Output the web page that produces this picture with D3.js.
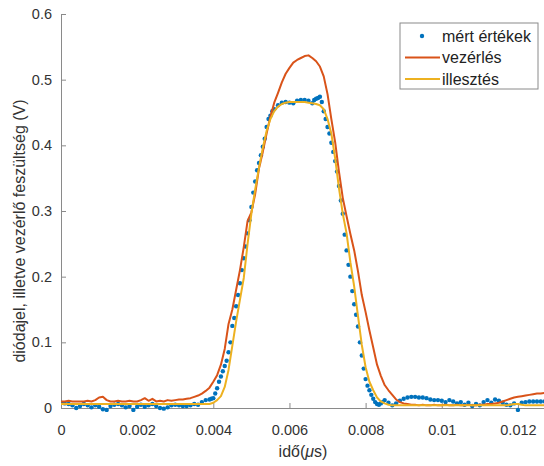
<!DOCTYPE html>
<html>
<head>
<meta charset="utf-8">
<script src="https://cdn.jsdelivr.net/npm/d3@7"></script>
<style>
body { margin: 0; background: #fff; }
svg { display: block; font-family: "Liberation Sans", Arial, sans-serif; }
</style>
</head>
<body>
<div id="chart"></div>
<script>
// dioda jel, vezerles es illesztes

const svgWidth = 544
const svgHeight = 466

// meresi pontok (ido, feszultseg)
const mertIdo = [
	0, 0.0001, 0.0002, 0.0003, 0.0004, 0.0005, 0.0006, 0.0007, 0.0008, 0.0009,
	0.0010, 0.0011, 0.0012, 0.0013, 0.0014, 0.0015, 0.0016, 0.0017, 0.0018, 0.0019,
	0.0020, 0.0021, 0.0022, 0.0023, 0.0024, 0.0025, 0.0026, 0.0027, 0.0028, 0.0029,
	0.0030, 0.0031, 0.0032, 0.0033, 0.0034, 0.0035, 0.0036, 0.0037, 0.0038, 0.0039,
	0.00395, 0.0040, 0.00405, 0.0041, 0.00415, 0.0042, 0.00425, 0.0043, 0.00435, 0.0044,
	0.00445, 0.0045, 0.00455, 0.0046, 0.00465, 0.0047, 0.00475, 0.0048, 0.00485, 0.0049,
	0.00495, 0.0050, 0.00505, 0.0051, 0.00515, 0.0052, 0.00525, 0.0053, 0.00535, 0.0054,
	0.00545, 0.0055, 0.00555,
	0.0056, 0.0057, 0.0058, 0.0059, 0.0060, 0.0061, 0.0062, 0.0063, 0.0064, 0.0065,
	0.0066, 0.00665, 0.0067, 0.00675, 0.0068, 0.00685, 0.0069,
	0.00695, 0.0070, 0.00705, 0.0071, 0.00715, 0.0072, 0.00725, 0.0073, 0.00735, 0.0074,
	0.00745, 0.0075, 0.00755, 0.0076, 0.00765, 0.0077, 0.00775, 0.0078, 0.00785, 0.0079,
	0.00795, 0.0080, 0.00805, 0.0081, 0.00815, 0.0082, 0.00825, 0.0083, 0.00835, 0.0084,
	0.00845, 0.0085,
	0.0086, 0.0087, 0.0088, 0.0089, 0.0090, 0.0091, 0.0092, 0.0093, 0.0094, 0.0095,
	0.0096, 0.0097, 0.0098, 0.0099, 0.0100, 0.0101, 0.0102, 0.0103, 0.0104, 0.0105,
	0.0106, 0.0107, 0.0108, 0.0109, 0.0110, 0.0111, 0.0112, 0.0113, 0.0114, 0.0115,
	0.0116, 0.0117, 0.0118, 0.0119, 0.0120, 0.0121, 0.0122, 0.0123, 0.0124, 0.0125,
	0.0126, 0.0127
]
const mertErtek = [
	0.008, 0.007, 0.006, 0.004, 0.000, 0.003, 0.006, 0.004, 0.001, 0.004,
	0.002, -0.002, -0.003, 0.003, 0.005, 0.006, 0.004, 0.001, 0.003, -0.003,
	0.002, 0.005, 0.002, 0.004, 0.006, 0.003, 0.000, -0.001, 0.001, 0.004,
	0.005, 0.004, 0.003, 0.003, 0.004, 0.006, 0.005, 0.009, 0.012, 0.013,
	0.014, 0.015, 0.022, 0.030, 0.040, 0.048, 0.056, 0.064, 0.072, 0.085,
	0.100, 0.125, 0.137, 0.155, 0.172, 0.190, 0.210, 0.228, 0.246, 0.266,
	0.286, 0.306, 0.328, 0.345, 0.362, 0.373, 0.385, 0.398, 0.410, 0.428,
	0.440, 0.445, 0.452,
	0.455, 0.461, 0.465, 0.466, 0.465, 0.464, 0.468, 0.469, 0.469, 0.468,
	0.464, 0.469, 0.471, 0.472, 0.474, 0.466, 0.452,
	0.440, 0.428, 0.418, 0.404, 0.390, 0.376, 0.360, 0.338, 0.316, 0.296,
	0.264, 0.240, 0.218, 0.200, 0.178, 0.158, 0.142, 0.124, 0.100, 0.080,
	0.060, 0.044, 0.034, 0.027, 0.020, 0.014, 0.009, 0.006, 0.005, 0.007,
	0.009, 0.012,
	0.008, 0.004, 0.007, 0.011, 0.014, 0.016, 0.017, 0.017, 0.016, 0.016,
	0.015, 0.013, 0.012, 0.012, 0.011, 0.009, 0.012, 0.010, 0.007, 0.009,
	0.005, 0.008, 0.003, 0.006, 0.004, 0.009, 0.012, 0.008, 0.013, 0.011,
	0.008, 0.005, 0.004, 0.007, -0.003, 0.008, 0.009, 0.010, 0.010, 0.010,
	0.010, 0.010
]

// a ket gorbe kozos idotengelye
const vonalIdo = [
	0, 0.0001, 0.0002, 0.0003, 0.0004, 0.0005, 0.0006, 0.0007, 0.0008, 0.0009,
	0.0010, 0.0011, 0.0012, 0.0013, 0.0014, 0.0015, 0.0016, 0.0017, 0.0018, 0.0019,
	0.0020, 0.0021, 0.0022, 0.0023, 0.0024, 0.0025, 0.0026, 0.0027, 0.0028, 0.0029,
	0.0030, 0.0031, 0.0032, 0.0033, 0.0034, 0.0035, 0.0036, 0.0037, 0.0038, 0.0039,
	0.0040, 0.0041, 0.0042, 0.0043, 0.0044, 0.0045, 0.0046, 0.0047, 0.0048, 0.0049,
	0.0050, 0.0051, 0.0052, 0.0053, 0.0054, 0.0055, 0.0056, 0.0057, 0.0058, 0.0059,
	0.0060, 0.0061, 0.0062, 0.0063, 0.0064, 0.0065, 0.0066, 0.0067, 0.0068, 0.0069,
	0.0070, 0.0071, 0.0072, 0.0073, 0.0074, 0.0075, 0.0076, 0.0077, 0.0078, 0.0079,
	0.0080, 0.0081, 0.0082, 0.0083, 0.0084, 0.0085, 0.0086, 0.0087, 0.0088, 0.0089,
	0.0090, 0.0091, 0.0092, 0.0093, 0.0094, 0.0095, 0.0096, 0.0097, 0.0098, 0.0099,
	0.0100, 0.0101, 0.0102, 0.0103, 0.0104, 0.0105, 0.0106, 0.0107, 0.0108, 0.0109,
	0.0110, 0.0111, 0.0112, 0.0113, 0.0114, 0.0115, 0.0116, 0.0117, 0.0118, 0.0119,
	0.0120, 0.0121, 0.0122, 0.0123, 0.0124, 0.0125, 0.0126, 0.0127
]
const vezerles = [
	0.010, 0.010, 0.011, 0.010, 0.010, 0.010, 0.010, 0.011, 0.010, 0.012,
	0.016, 0.017, 0.012, 0.010, 0.010, 0.011, 0.010, 0.010, 0.011, 0.010,
	0.010, 0.012, 0.015, 0.011, 0.014, 0.010, 0.011, 0.010, 0.012, 0.011,
	0.012, 0.013, 0.013, 0.014, 0.015, 0.017, 0.019, 0.022, 0.026, 0.031,
	0.040, 0.050, 0.066, 0.090, 0.128, 0.150, 0.180, 0.210, 0.245, 0.285,
	0.298, 0.326, 0.365, 0.390, 0.418, 0.444, 0.465, 0.480, 0.496, 0.509,
	0.518, 0.526, 0.530, 0.533, 0.536, 0.537, 0.533, 0.528, 0.520, 0.505,
	0.478, 0.440, 0.405, 0.360, 0.320, 0.292, 0.265, 0.240, 0.208, 0.172,
	0.146, 0.118, 0.092, 0.066, 0.049, 0.035, 0.027, 0.020, 0.013, 0.009,
	0.007, 0.006, 0.005, 0.005, 0.004, 0.005, 0.004, 0.004, 0.005, 0.004,
	0.004, 0.005, 0.004, 0.004, 0.005, 0.004, 0.004, 0.005, 0.004, 0.004,
	0.005, 0.005, 0.006, 0.006, 0.007, 0.008, 0.010, 0.012, 0.014, 0.016,
	0.017, 0.018, 0.019, 0.020, 0.021, 0.022, 0.022, 0.023
]
const illesztes = [
	0.006, 0.006, 0.006, 0.006, 0.006, 0.006, 0.006, 0.006, 0.006, 0.006,
	0.006, 0.006, 0.006, 0.006, 0.006, 0.006, 0.006, 0.006, 0.006, 0.006,
	0.006, 0.006, 0.006, 0.006, 0.006, 0.006, 0.006, 0.006, 0.006, 0.006,
	0.006, 0.006, 0.006, 0.006, 0.006, 0.006, 0.006, 0.006, 0.006, 0.006,
	0.008, 0.012, 0.018, 0.032, 0.058, 0.095, 0.132, 0.165, 0.198, 0.250,
	0.296, 0.333, 0.366, 0.396, 0.422, 0.440, 0.452, 0.459, 0.463, 0.465,
	0.466, 0.466, 0.466, 0.466, 0.466, 0.465, 0.464, 0.463, 0.461, 0.455,
	0.440, 0.418, 0.380, 0.335, 0.296, 0.266, 0.222, 0.185, 0.140, 0.096,
	0.062, 0.040, 0.027, 0.016, 0.010, 0.007, 0.005, 0.004, 0.004, 0.004,
	0.004, 0.004, 0.004, 0.004, 0.004, 0.004, 0.004, 0.004, 0.004, 0.004,
	0.004, 0.004, 0.004, 0.004, 0.004, 0.004, 0.004, 0.004, 0.004, 0.004,
	0.004, 0.004, 0.004, 0.004, 0.004, 0.004, 0.004, 0.004, 0.005, 0.006,
	0.006, 0.005, 0.004, 0.004, 0.004, 0.004, 0.004, 0.004
]

const xTicks = [0, 0.002, 0.004, 0.006, 0.008, 0.01, 0.012]
const yTicks = [0, 0.1, 0.2, 0.3, 0.4, 0.5, 0.6]
const legendNames = ["mért értékek", "vezérlés", "illesztés"]
const colors = ["#0072BD", "#D95319", "#EDB120"]

function drawChart()
{
	var svg = d3.select("#chart")
		.append("svg")
		.attr("width", svgWidth)
		.attr("height", svgHeight)

	// the plot runs past the right edge of the picture
	var x = d3.scaleLinear().domain([0, 0.013]).range([61, 556])
	var y = d3.scaleLinear().domain([0, 0.6]).range([408, 14])

	svg.append("clipPath").attr("id", "plotClip")
		.append("rect")
		.attr("x", 61).attr("y", 14)
		.attr("width", 495).attr("height", 398)

	var fmt = d => d === 0 ? "0" : String(+d.toFixed(4))

	var xAxis = svg.append("g")
		.attr("transform", "translate(0," + y(0) + ")")
		.call(d3.axisBottom(x).tickValues(xTicks).tickFormat(fmt)
			.tickSizeInner(-5).tickSizeOuter(0).tickPadding(17))
	var yAxis = svg.append("g")
		.attr("transform", "translate(" + x(0) + ",0)")
		.call(d3.axisLeft(y).tickValues(yTicks).tickFormat(fmt)
			.tickSizeInner(-5).tickSizeOuter(0).tickPadding(9))

	for (const ax of [xAxis, yAxis]) {
		ax.select(".domain").attr("stroke", "#8a8a8a")
		ax.selectAll(".tick line").attr("stroke", "#8a8a8a")
		ax.selectAll(".tick text")
			.attr("fill", "#333")
			.style("font-size", "14.5px")
			.style("font-family", "'Liberation Sans', Arial, sans-serif")
	}

	var plot = svg.append("g").attr("clip-path", "url(#plotClip)")

	plot.selectAll("circle")
		.data(mertIdo)
		.join("circle")
		.attr("cx", d => x(d))
		.attr("cy", (d, i) => y(mertErtek[i]))
		.attr("r", 2.2)
		.attr("fill", colors[0])

	var line = d3.line()
		.x(d => x(d[0]))
		.y(d => y(d[1]))

	var series = [vezerles, illesztes]
	for (i = 0; i < series.length; i++) {
		var pts = vonalIdo.map((t, j) => [t, series[i][j]])
		plot.append("path")
			.attr("d", line(pts))
			.style("fill", "none")
			.style("stroke", colors[i + 1])
			.style("stroke-width", 2)
			.style("stroke-linejoin", "round")
	}

	// tengelyfeliratok
	var xLabel = svg.append("text")
		.attr("x", 303)
		.attr("y", 457)
		.attr("text-anchor", "middle")
		.attr("fill", "#333")
		.style("font-size", "16px")
	xLabel.append("tspan").text("idő(")
	xLabel.append("tspan").style("font-style", "italic").text("μ")
	xLabel.append("tspan").text("s)")

	svg.append("text")
		.attr("transform", "translate(25,231) rotate(-90)")
		.attr("text-anchor", "middle")
		.attr("fill", "#333")
		.style("font-size", "16px")
		.text("diódajel, illetve vezérlő feszültség (V)")

	// jelmagyarazat
	var legend = svg.append("g")
	legend.append("rect")
		.attr("x", 400).attr("y", 23)
		.attr("width", 138).attr("height", 66)
		.attr("fill", "#fff")
		.attr("stroke", "#8a8a8a")
		.attr("stroke-width", 1)

	for (i = 0; i < legendNames.length; i++) {
		var ly = 36 + i * 21.5
		if (i === 0) {
			legend.append("circle")
				.attr("cx", 422).attr("cy", ly)
				.attr("r", 2.2)
				.attr("fill", colors[0])
		} else {
			legend.append("line")
				.attr("x1", 405).attr("x2", 440)
				.attr("y1", ly).attr("y2", ly)
				.attr("stroke", colors[i])
				.attr("stroke-width", 2)
		}
		legend.append("text")
			.attr("x", 442).attr("y", ly)
			.attr("dy", "0.35em")
			.attr("fill", "#222")
			.style("font-size", "16px")
			.text(legendNames[i])
	}
}

drawChart()
</script>
</body>
</html>
